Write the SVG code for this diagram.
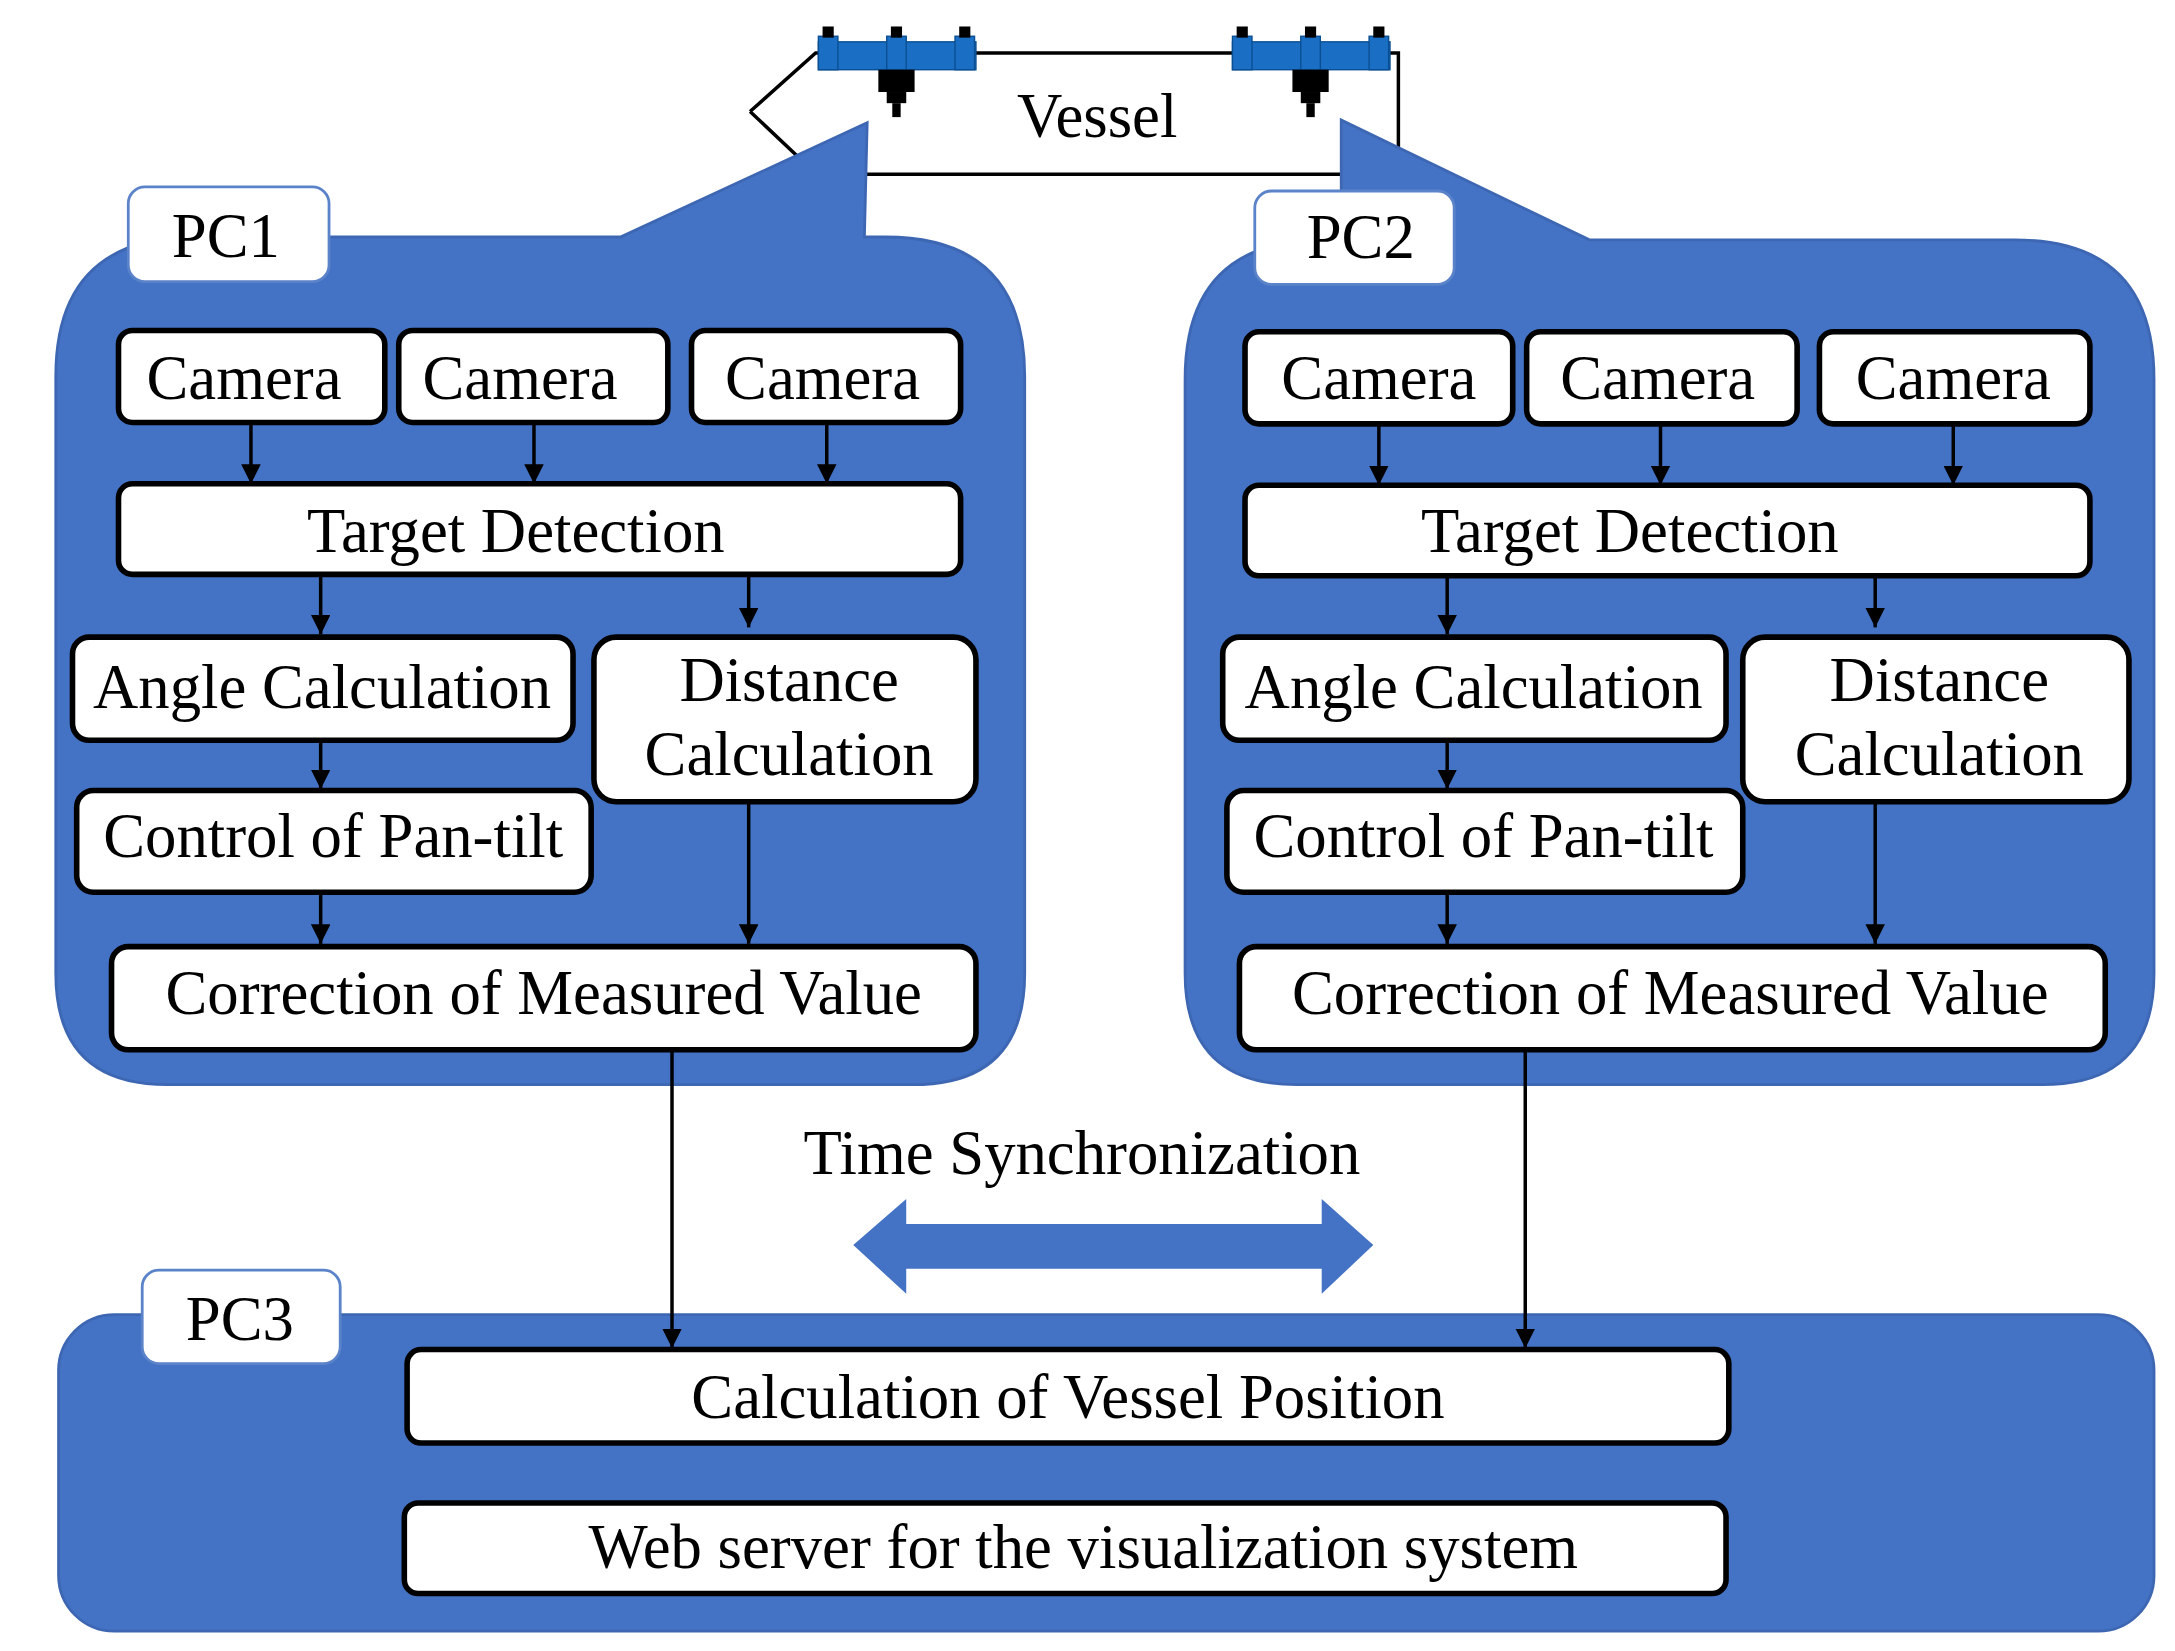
<svg xmlns="http://www.w3.org/2000/svg" width="2175" height="1651" viewBox="0 0 2175 1651">
<defs>
<marker id="ah" viewBox="0 0 10 10" refX="10" refY="5" markerWidth="14" markerHeight="14" markerUnits="userSpaceOnUse" orient="auto"><path d="M0,0 L10,5 L0,10 z" fill="#000"/></marker>
<style>
.blob{fill:#4472C4;stroke:#3d67b3;stroke-width:2}
.box{fill:#fff;stroke:#000;stroke-width:4}
.lbl{fill:#fff;stroke:#5b83c9;stroke-width:2}
.t{font-family:"Liberation Serif","DejaVu Serif",serif;font-size:45px;fill:#000;text-anchor:middle}
.c{stroke:#000;stroke-width:2.5;fill:none;marker-end:url(#ah)}
.cam{fill:#1a6fc4;stroke:#0b4f93;stroke-width:1}
</style>
</defs>
<rect width="2175" height="1651" fill="#fff"/>
<g transform="scale(1.3942)">
<g id="vessel">
<polygon points="538,80 585,38 1003,38 1003,125 570,125" fill="#fff" stroke="none"/>
<path d="M538,80 L585,38 L1003,38 L1003,125 L570,125 M538,80 L572,112" fill="none" stroke="#000" stroke-width="2.5"/>
<text class="t" x="787" y="98">Vessel</text>
<g id="cam1">
<rect class="cam" x="587" y="30" width="113" height="20"/>
<rect class="cam" x="587" y="26" width="14" height="24"/><rect class="cam" x="636" y="26" width="14" height="24"/><rect class="cam" x="685" y="26" width="14" height="24"/>
<rect x="590" y="19" width="8" height="8" fill="#000"/><rect x="639" y="19" width="8" height="8" fill="#000"/><rect x="688" y="19" width="8" height="8" fill="#000"/>
<rect x="630" y="50" width="26" height="16" fill="#000"/><rect x="636" y="66" width="14" height="8" fill="#000"/><rect x="640" y="74" width="6" height="10" fill="#000"/>
</g>
<g id="cam2">
<rect class="cam" x="884" y="30" width="113" height="20"/>
<rect class="cam" x="884" y="26" width="14" height="24"/><rect class="cam" x="933" y="26" width="14" height="24"/><rect class="cam" x="982" y="26" width="14" height="24"/>
<rect x="887" y="19" width="8" height="8" fill="#000"/><rect x="936" y="19" width="8" height="8" fill="#000"/><rect x="985" y="19" width="8" height="8" fill="#000"/>
<rect x="927" y="50" width="26" height="16" fill="#000"/><rect x="933" y="66" width="14" height="8" fill="#000"/><rect x="937" y="74" width="6" height="10" fill="#000"/>
</g>
</g>
<g id="pc1">
<path class="blob" d="M140,170 L445,170 L622,88 L620,170 L635,170 Q735,170 735,270 L735,698 Q735,778 655,778 L120,778 Q40,778 40,698 L40,270 Q40,170 140,170 Z"/>
<rect class="lbl" x="92" y="134" width="144" height="68" rx="12"/>
<text class="t" x="162" y="184">PC1</text>
</g>
<g id="pc2">
<path class="blob" d="M950,172 L962,172 L962,86 L1140,172 L1445,172 Q1545,172 1545,272 L1545,698 Q1545,778 1465,778 L930,778 Q850,778 850,698 L850,272 Q850,172 950,172 Z"/>
<rect class="lbl" x="900" y="137" width="143" height="67" rx="12"/>
<text class="t" x="976" y="185">PC2</text>
</g>
<g id="pc3">
<rect class="blob" x="42" y="943" width="1503" height="227" rx="40"/>
<rect class="lbl" x="102" y="911" width="142" height="67" rx="12"/>
<text class="t" x="172" y="961">PC3</text>
</g>
<g id="n1"><rect class="box" x="85" y="237" width="191" height="66" rx="10"/><text class="t" x="175" y="286">Camera</text></g>
<g id="n2"><rect class="box" x="286" y="237" width="193" height="66" rx="10"/><text class="t" x="373" y="286">Camera</text></g>
<g id="n3"><rect class="box" x="496" y="237" width="193" height="66" rx="10"/><text class="t" x="590" y="286">Camera</text></g>
<g id="n4"><rect class="box" x="85" y="347" width="604" height="65" rx="10"/><text class="t" x="370" y="396">Target Detection</text></g>
<g id="n5"><rect class="box" x="52" y="457" width="359" height="74" rx="12"/><text class="t" x="231" y="508">Angle Calculation</text></g>
<g id="n6"><rect class="box" x="426" y="457" width="274" height="118" rx="16"/><text class="t" x="566" y="503">Distance</text><text class="t" x="566" y="556">Calculation</text></g>
<g id="n7"><rect class="box" x="55" y="567" width="369" height="73" rx="12"/><text class="t" x="239" y="615">Control of Pan-tilt</text></g>
<g id="n8"><rect class="box" x="80" y="679" width="620" height="74" rx="12"/><text class="t" x="390" y="727">Correction of Measured Value</text></g>
<g id="m1"><rect class="box" x="893" y="238" width="192" height="66" rx="10"/><text class="t" x="989" y="286">Camera</text></g>
<g id="m2"><rect class="box" x="1095" y="238" width="194" height="66" rx="10"/><text class="t" x="1189" y="286">Camera</text></g>
<g id="m3"><rect class="box" x="1305" y="238" width="194" height="66" rx="10"/><text class="t" x="1401" y="286">Camera</text></g>
<g id="m4"><rect class="box" x="893" y="348" width="606" height="65" rx="10"/><text class="t" x="1169" y="396">Target Detection</text></g>
<g id="m5"><rect class="box" x="877" y="457" width="361" height="74" rx="12"/><text class="t" x="1057" y="508">Angle Calculation</text></g>
<g id="m6"><rect class="box" x="1250" y="457" width="277" height="118" rx="16"/><text class="t" x="1391" y="503">Distance</text><text class="t" x="1391" y="556">Calculation</text></g>
<g id="m7"><rect class="box" x="880" y="567" width="370" height="73" rx="12"/><text class="t" x="1064" y="615">Control of Pan-tilt</text></g>
<g id="m8"><rect class="box" x="889" y="679" width="621" height="74" rx="12"/><text class="t" x="1198" y="727">Correction of Measured Value</text></g>
<g id="p1"><rect class="box" x="292" y="968" width="948" height="67" rx="10"/><text class="t" x="766" y="1017">Calculation of Vessel Position</text></g>
<g id="p2"><rect class="box" x="290" y="1078" width="948" height="65" rx="10"/><text class="t" x="777" y="1125">Web server for the visualization system</text></g>
<g id="sync">
<text class="t" x="776" y="842">Time Synchronization</text>
<polygon points="612,893 650,860 650,878 948,878 948,860 985,893 948,928 948,910 650,910 650,928" fill="#4472C4"/>
</g>
<g id="connectors">
<line class="c" x1="180" y1="303" x2="180" y2="347"/>
<line class="c" x1="383" y1="303" x2="383" y2="347"/>
<line class="c" x1="593" y1="303" x2="593" y2="347"/>
<line class="c" x1="230" y1="412" x2="230" y2="455"/>
<line class="c" x1="537" y1="412" x2="537" y2="450"/>
<line class="c" x1="230" y1="531" x2="230" y2="566"/>
<line class="c" x1="230" y1="640" x2="230" y2="677"/>
<line class="c" x1="537" y1="575" x2="537" y2="677"/>
<line class="c" x1="989" y1="304" x2="989" y2="348"/>
<line class="c" x1="1191" y1="304" x2="1191" y2="348"/>
<line class="c" x1="1401" y1="304" x2="1401" y2="348"/>
<line class="c" x1="1038" y1="413" x2="1038" y2="455"/>
<line class="c" x1="1345" y1="413" x2="1345" y2="450"/>
<line class="c" x1="1038" y1="531" x2="1038" y2="566"/>
<line class="c" x1="1038" y1="640" x2="1038" y2="677"/>
<line class="c" x1="1345" y1="575" x2="1345" y2="677"/>
<line class="c" x1="482" y1="753" x2="482" y2="967"/>
<line class="c" x1="1094" y1="753" x2="1094" y2="967"/>
</g>
</g>
</svg>
